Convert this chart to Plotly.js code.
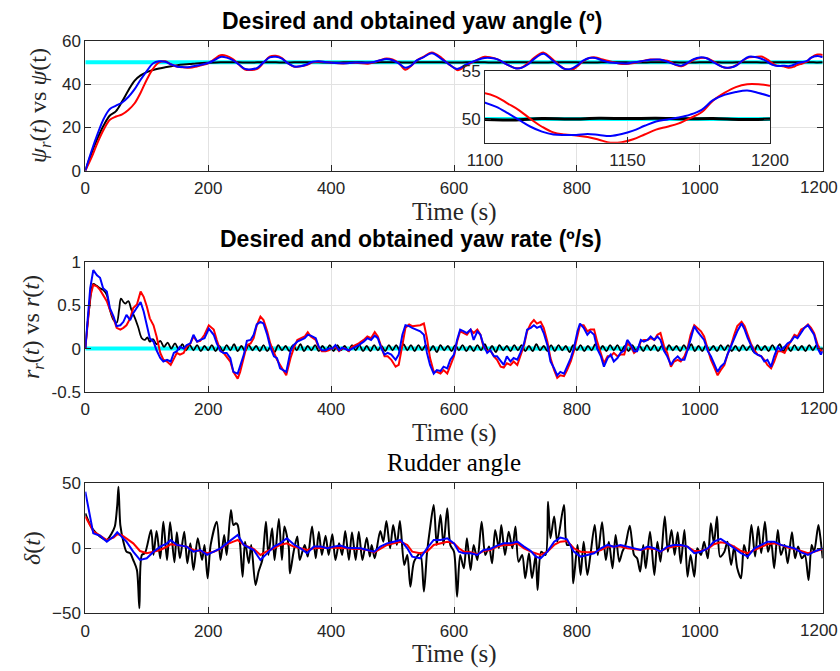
<!DOCTYPE html>
<html>
<head>
<meta charset="utf-8">
<script src="https://cdn.plot.ly/plotly-3.0.1.min.js"></script>
<style>html,body{margin:0;padding:0;background:#fff;}#chart{width:840px;height:671px;}</style>
</head>
<body>
<div id="chart"></div>
<script>
// ---------------- DATA ----------------
// Panel 1: yaw angle (deg)
const yawTime = [
0,10,20,30,40,50,60,70,80,90,
100,110,120,130,140,150,160,170,180,190,
200,210,220,230,240,250,260,270,280,290,
300,310,320,330,340,350,360,370,380,390,
400,420,440,460,470,480,490,500,510,521,
530,540,550,564,580,590,600,606,620,640,
650,660,670,680,690,700,710,720,730,740,
746,760,770,780,790,800,810,820,830,840,
850,860,870,880,890,900,910,920,935,950,
960,970,980,990,1000,1010,1020,1030,1040,1050,
1060,1070,1080,1090,
1100,1104,1108,1112,1116,1120,1124,1128,1132,1136,
1140,1144,1148,1152,1156,1160,1164,1168,1172,1176,
1180,1184,1188,1192,1196,1200];
const yawBlue = [
0,9,17,24,28.5,30,31.5,34,37.5,42,
46,49.5,50.5,50.3,49,48,47.8,47.9,48.4,49,
49.7,51,52.5,52.2,51,49,47,46.8,47.5,50,
52.3,52.6,51.7,49.5,48.1,48.2,49,50.3,50.5,50.2,
49.8,49.6,49.9,49.8,50.2,51,51.5,51,49.5,47.5,
48.5,51,52.3,54.2,51.5,49.5,47.5,47,49,51.3,
52,52,51.5,50,48.5,47.3,47.5,49,51.5,53.5,
54,51,48.8,47,47,48.5,50.8,52,52,51,
50.2,49.8,49.6,49.5,49.9,50.3,50.8,51.2,51.3,50,
49,48.5,49.8,51.5,52.3,52,50.5,48.8,47.6,47.6,
48.6,51,52.6,52.5,
51.7,51.25,50.6,49.9,49.2,48.7,48.4,48.35,48.35,48.45,
48.35,48.25,48.45,48.8,49.3,49.75,49.95,50.15,50.45,50.95,
51.95,52.5,52.8,52.95,52.7,52.35];
const yawRed = [
0,6,13,19,23.5,25,26,28,31,36,
42,47,50,50.5,49,48,47.7,47.5,48,48.8,
49.6,51.5,53.3,53,51.5,49,46.7,46.5,47,49.8,
52.6,53,52,49.5,48,48.2,48.8,50,50.3,50.2,
49.8,49.5,49.8,49.4,50,51,51.8,51.3,49.7,46.6,
48.3,51,52.5,54.6,52,49.5,47.5,46.4,48.5,51.5,
52.6,52.3,51.5,50,48.5,47.3,47.6,49.5,52,54,
54.5,51.5,49,47,46.3,48,50.5,52,52.3,51.5,
50.8,50,49.4,49.3,49.6,50.2,50.8,51.3,51.2,50.5,
49,48.2,49.5,51.2,52,52,50.8,49,47.6,47.6,
48.8,50.8,52.3,52.5,
52.66,52.3,51.6,50.9,50.0,49.2,48.6,48.4,48.3,48.15,
47.85,47.55,47.6,47.9,48.4,48.9,49.2,49.55,50.1,50.7,
51.9,52.7,53.3,53.6,53.6,53.45];
const yawBlackPts = [
[0,0],[10,8],[20,15],[30,21],[40,25.5],[50,27.5],[60,32],[70,37],[80,41.5],[90,44],
[100,45.5],[110,46.5],[120,47.2],[130,47.7],[140,48.2],[150,48.7],[160,49],[170,49.2],[180,49.5],[190,49.7],
[200,49.8],[220,50],[240,50.1],[260,49.9],[280,50],[300,50.1],[320,49.9],[340,50],[360,50.1],[380,50],
[400,49.9],[420,50],[440,50.1],[460,49.9],[480,50],[500,50.1],[520,49.9],[540,50],[560,50.1],[580,50],
[600,49.9],[620,50],[640,50.1],[660,49.9],[680,50],[700,50.1],[720,50],[740,49.9],[760,50],[780,50.1],
[800,50],[820,49.9],[840,50],[860,50.1],[880,50],[900,49.9],[920,50],[940,50.1],[960,50],[980,49.9],
[1000,50],[1020,50.1],[1040,49.9],[1060,50],[1080,50.1],[1100,49.95],[1110,49.9],[1120,50.05],[1130,50.0],[1140,50.08],
[1150,50.05],[1160,50.08],[1170,50.02],[1180,50.05],[1190,49.95],[1200,50.0]];
const yawRef = [50, 50];
const refTime = [0, 1200];

// Panel 2: yaw rate (deg/s)
const rateTime = [
0,8,13,19,24,29,35,40,46,51,
57,62,67,73,78,84,90,95,100,105,
111,116,122,127,133,139,144,149,154,160,
165,171,176,182,187,194,201,209,214,220,
225,230,236,241,248,252,258,263,269,274,
279,285,290,296,301,307,312,317,323,327,
334,339,345,350,357,362,367,375,380,385,
391,396,402,407,413,418,423,429,434,440,
445,453,459,465,471,476,482,487,492,498,
505,510,516,521,527,532,
545,551,556,561,567,572,578,583,589,594,
600,605,610,616,621,627,632,638,643,648,
654,659,665,670,676,681,686,692,697,703,
708,714,719,725,730,735,741,746,752,757,
763,768,773,779,784,790,795,801,805,811,
817,822,828,833,839,844,850,855,860,866,
871,877,882,888,893,898,904,909,915,920,
926,931,936,942,947,953,958,964,969,975,
980,985,991,996,1002,1007,1013,1018,1023,1029,
1034,1040,1045,1051,1056,1061,1068,1073,1078,1083,
1089,1094,1100,1105,1110,1116,1121,1127,1132,1138,
1143,1148,1154,1159,1165,1170,1176,1181,1186,1192,
1197,1200];
const rateBlue = [
0,0.70,0.91,0.85,0.82,0.70,0.66,0.47,0.37,0.26,
0.27,0.31,0.39,0.33,0.41,0.47,0.54,0.43,0.27,0.12,
0.08,-0.02,-0.11,-0.15,-0.13,-0.15,-0.05,-0.03,0.02,0.00,
0.04,0.06,0.16,0.08,0.10,0.12,0.23,0.16,0.06,-0.03,
-0.05,-0.05,-0.11,-0.27,-0.29,-0.19,-0.07,0.09,0.10,0.16,
0.28,0.31,0.29,0.16,0.02,-0.09,-0.11,-0.23,-0.25,-0.27,
-0.03,0.04,0.08,0.10,0.12,0.16,0.15,0.12,0.02,-0.02,
-0.02,0.00,0.00,0.04,-0.02,0.01,0.00,-0.02,0.00,0.02,
0.04,0.08,0.12,0.10,0.15,0.12,0.00,-0.07,-0.05,-0.07,
-0.13,-0.07,0.16,0.27,0.26,0.24,
0.20,0.16,-0.05,-0.19,-0.29,-0.25,-0.26,-0.21,-0.23,-0.13,
-0.07,0.10,0.22,0.20,0.18,0.22,0.10,0.20,0.16,0.04,
-0.05,-0.02,-0.09,-0.09,-0.15,-0.19,-0.09,-0.15,-0.11,-0.13,
-0.05,0.06,0.22,0.24,0.27,0.24,0.26,0.18,0.04,-0.15,
-0.23,-0.31,-0.27,-0.29,-0.21,-0.11,0.00,0.20,0.29,0.24,
0.16,0.20,0.16,0.00,-0.09,-0.21,-0.11,-0.07,-0.15,-0.11,
-0.05,-0.02,0.10,0.04,-0.03,-0.03,0.10,0.08,0.10,0.14,
0.10,0.14,0.10,-0.03,-0.09,-0.19,-0.13,-0.09,-0.13,-0.13,
-0.02,0.12,0.26,0.20,0.14,0.10,-0.03,-0.09,-0.17,-0.27,
-0.21,-0.17,-0.07,0.04,0.12,0.20,0.29,0.22,0.12,0.04,
-0.05,-0.07,-0.09,-0.15,-0.13,-0.21,-0.09,0.02,-0.02,0.02,
0.06,0.08,0.14,0.12,0.18,0.24,0.27,0.22,0.16,0.00,
-0.07,-0.03];
const rateRed = [
0,0.60,0.74,0.72,0.68,0.62,0.55,0.45,0.35,0.24,
0.22,0.24,0.27,0.35,0.47,0.51,0.66,0.60,0.49,0.35,
0.27,0.14,-0.05,-0.13,-0.15,-0.19,-0.11,-0.05,-0.07,-0.05,
0.02,0.06,0.14,0.08,0.09,0.16,0.27,0.22,0.10,-0.03,
-0.05,-0.09,-0.15,-0.27,-0.35,-0.27,-0.11,0.04,0.06,0.12,
0.27,0.37,0.33,0.20,0.06,-0.05,-0.13,-0.19,-0.27,-0.31,
-0.11,0.00,0.10,0.12,0.14,0.19,0.14,0.10,0.01,-0.03,
-0.03,-0.02,0.00,0.02,-0.03,0.00,0.00,-0.03,0.02,0.04,
0.06,0.10,0.14,0.12,0.19,0.14,0.02,-0.09,-0.09,-0.13,
-0.21,-0.19,0.04,0.24,0.28,0.26,
0.27,0.29,0.12,-0.11,-0.27,-0.27,-0.29,-0.25,-0.29,-0.19,
-0.09,0.08,0.20,0.18,0.16,0.22,0.18,0.22,0.16,0.02,
-0.03,-0.02,-0.09,-0.13,-0.21,-0.22,-0.17,-0.19,-0.15,-0.19,
-0.09,0.04,0.20,0.29,0.33,0.29,0.31,0.24,0.08,-0.11,
-0.25,-0.34,-0.31,-0.32,-0.25,-0.15,-0.03,0.16,0.27,0.27,
0.20,0.22,0.22,0.08,-0.07,-0.17,-0.09,-0.09,-0.05,-0.09,
-0.07,-0.07,0.06,0.02,-0.05,-0.02,0.08,0.10,0.10,0.12,
0.10,0.16,0.18,0.02,-0.05,-0.21,-0.15,-0.13,-0.15,-0.09,
0.00,0.16,0.27,0.24,0.20,0.14,-0.02,-0.13,-0.21,-0.31,
-0.25,-0.19,-0.07,0.04,0.16,0.26,0.31,0.26,0.16,0.06,
-0.02,-0.07,-0.09,-0.13,-0.19,-0.23,-0.15,-0.03,-0.03,-0.05,
0.02,0.08,0.16,0.14,0.22,0.24,0.28,0.24,0.18,0.04,
-0.02,-0.03];
const rateBlackPts = [
[0,0],[7,0.50],[13,0.75],[18,0.73],[24,0.70],[29,0.68],[35,0.62],[40,0.45],[46,0.33],[51,0.30],
[55,0.45],[58,0.58],[62,0.54],[65,0.52],[70,0.55],[75,0.45],[81,0.35],[86,0.25],[92,0.12],[97,0.10],
[101,0.13],[105,0.08],[110,0.11],[116,0.05],[122,0.09],[128,0.02],[134,0.07],[140,0.00],[146,0.06],[152,-0.01],
[158,0.05],[164,-0.02],[170,0.04],[176,-0.02],[182,0.04],[188,-0.03],[194,0.03],[200,-0.02],[206,0.04],[212,-0.03],
[218,0.03],[224,-0.03],[230,0.04],[236,-0.02],[242,0.05],[248,-0.03],[254,0.03],[260,-0.03],[266,0.04],[272,-0.02],
[278,0.03],[284,-0.03],[290,0.04],[296,-0.03],[302,0.03],[308,-0.04],[314,0.04],[320,-0.02],[326,0.03],[332,-0.03],
[338,0.04],[344,-0.02],[350,0.05],[356,-0.03],[362,0.03],[368,-0.02],[374,0.04],[380,-0.03],[386,0.03],[392,-0.02],
[398,0.04],[404,-0.03],[410,0.04],[416,-0.02],[422,0.03],[428,-0.03],[434,0.04],[440,-0.02],[446,0.04],[452,-0.03],
[458,0.03],[464,-0.03],[470,0.04],[476,-0.02],[482,0.03],[488,-0.03],[494,0.04],[500,-0.02],[506,0.04],[512,-0.03],
[518,0.05],[524,-0.02],[530,0.04],[536,-0.03],[542,0.04],[548,-0.02],[554,0.04],[560,-0.03],[566,0.03],[572,-0.04],
[578,0.04],[584,-0.02],[590,0.03],[596,-0.03],[602,0.04],[608,-0.02],[614,0.04],[620,-0.03],[626,0.03],[632,-0.03],
[638,0.04],[644,-0.02],[650,0.05],[656,-0.03],[662,0.03],[668,-0.04],[674,0.04],[680,-0.02],[686,0.03],[692,-0.03],
[698,0.04],[704,-0.02],[710,0.04],[716,-0.03],[722,0.03],[728,-0.03],[734,0.05],[740,-0.02],[746,0.03],[752,-0.03],
[758,0.04],[764,-0.03],[770,0.04],[776,-0.02],[782,0.03],[788,-0.04],[794,0.04],[800,-0.02],[806,0.04],[812,-0.03],
[818,0.03],[824,-0.02],[830,0.05],[836,-0.03],[842,0.03],[848,-0.03],[854,0.04],[860,-0.02],[866,0.04],[872,-0.03],
[878,0.03],[884,-0.03],[890,0.04],[896,-0.02],[902,0.03],[908,-0.03],[914,0.04],[920,-0.02],[926,0.04],[932,-0.03],
[938,0.03],[944,-0.04],[950,0.04],[956,-0.02],[962,0.03],[968,-0.03],[974,0.04],[980,-0.02],[986,0.05],[992,-0.03],
[998,0.03],[1004,-0.03],[1010,0.04],[1016,-0.02],[1022,0.03],[1028,-0.03],[1034,0.04],[1040,-0.02],[1046,0.04],[1052,-0.03],
[1058,0.03],[1064,-0.03],[1070,0.04],[1076,-0.02],[1082,0.03],[1088,-0.04],[1094,0.04],[1100,-0.02],[1106,0.03],[1112,-0.03],
[1118,0.04],[1124,-0.02],[1130,0.05],[1136,-0.03],[1142,0.03],[1148,-0.03],[1154,0.04],[1160,-0.02],[1166,0.03],[1172,-0.03],
[1178,0.04],[1184,-0.02],[1190,0.04],[1196,-0.03],[1200,0.01]];
const rateRef = [0, 0];

// Panel 3: rudder angle (deg)
const rudTime = [
0,8,13,24,35,46,52,59,67,78,
89,100,111,122,133,139,149,165,176,187,
198,209,220,230,241,248,258,274,285,296,
307,317,328,339,350,361,372,383,394,404,
415,426,437,448,459,470,480,491,502,513,
524,532,545,556,567,578,589,600,608,616,
627,638,648,659,670,681,692,703,714,725,
733,741,752,763,773,784,795,806,817,828,
839,850,860,871,882,893,904,915,926,936,
947,958,969,980,991,1002,1013,1023,1034,1045,
1056,1067,1078,1089,1100,1110,1121,1132,1143,1154,
1165,1176,1186,1200];
const rudBlue = [
43.6,21.8,11.5,9.7,5.1,9.0,12.3,9.0,5.1,-2.6,
-9.0,-7.7,-2.6,1.3,3.8,6.4,2.6,1.3,-2.6,-1.3,
-5.1,-2.6,0,3.8,7.7,10.3,2.6,-1.3,-9.0,-3.8,
1.3,3.8,7.7,3.1,0,-3.8,1.3,1.3,0,1.3,
2.1,0.5,0.5,0,-1.3,-2.6,1.3,3.8,5.1,6.4,
0,-6.4,-7.7,0,6.4,6.4,7.7,3.8,-2.6,-3.8,
-3.8,-5.1,-1.3,-0.5,2.1,3.8,3.8,5.1,1.3,-2.1,
-6.4,-7.7,-2.6,5.1,8.2,6.9,-2.6,-6.4,-5.1,-3.8,
0,2.6,1.3,2.6,1.3,0,-1.3,1.3,0,-2.6,
1.3,2.6,2.6,1.3,-3.8,-2.6,0,5.1,7.2,3.8,
0,-3.8,-6.4,0,2.6,5.1,5.1,2.6,1.3,0,
-3.1,-5.1,-2.6,0];
const rudRed = [
24.4,17.9,13.1,9.7,6.4,8.2,10.8,10.3,7.7,3.8,
-2.1,-3.8,-2.6,-1.3,1.3,3.1,2.6,1.3,-1.3,-2.1,
-3.8,-2.6,-0.5,3.1,5.1,6.4,2.6,-0.5,-5.1,-2.1,
0,2.6,3.8,1.3,0,-1.3,0,0.5,0.5,0.5,
0.5,0,-0.5,-0.5,-1.3,-3.1,-0.5,2.6,3.8,5.1,
2.6,-2.6,-3.8,-2.6,2.6,3.8,5.1,3.8,0,-2.6,
-3.1,-4.6,-2.1,-1.3,1.3,2.6,2.6,3.8,0,-2.6,
-3.8,-5.1,-2.6,2.6,5.1,5.6,0,-2.6,-3.1,-3.1,
-1.3,1.3,1.3,1.3,0,-0.5,-1.3,0,-0.5,-2.6,
0.5,1.3,2.1,1.3,-2.1,-2.1,-0.5,3.1,4.6,3.8,
1.3,-2.1,-3.8,-1.3,1.3,3.1,3.8,2.6,0.5,-0.5,
-2.1,-3.8,-2.6,-0.5];
const rudBlackPts = [
[0,26.9],[8,17.9],[13,14.1],[24,9.0],[35,6.4],[43,11.5],[48,16.7],[52,33.3],[54,47.4],[57,17.9],
[62,5.1],[67,-2.6],[73,-3.8],[78,-9.0],[84,-16.7],[88,-46.2],[92,-5.1],[97,-3.8],[107,14.1],[111,-5.1],
[116,13.3],[122,-7.7],[127,20.5],[133,-9.0],[138,20.0],[145,-10.8],[149,12.3],[154,-7.7],[161,12.8],[166,-11.5],
[171,3.8],[176,-16.7],[183,7.7],[190,-9.0],[194,2.6],[199,-23.1],[204,2.6],[214,20.5],[220,-9.0],[226,10.3],
[230,-5.1],[237,29.5],[241,17.9],[245,19.2],[248,17.9],[252,2.6],[256,-21.8],[260,5.1],[266,-11.5],[270,2.6],
[277,-28.2],[282,-17.9],[288,-9.0],[294,20.5],[298,-5.1],[304,15.4],[308,-9.0],[315,22.6],[320,-9.0],[324,16.7],
[331,1.3],[333,-19.2],[339,-2.6],[345,9.0],[349,-9.0],[357,2.6],[362,-6.4],[369,16.7],[375,-7.7],[380,12.8],
[385,-5.1],[391,9.7],[396,-5.1],[402,10.8],[407,-9.0],[413,3.8],[418,-5.1],[423,13.3],[429,-9.0],[434,12.3],
[440,-9.0],[445,12.8],[451,-9.0],[458,8.2],[463,-6.4],[466,2.6],[471,-7.7],[480,13.3],[485,5.1],[490,21.0],
[496,0],[501,17.9],[507,2.6],[512,21.0],[519,-12.8],[524,-5.1],[529,-29.5],[535,-10.3],[545,-3.8],[551,-33.3],
[556,-3.8],[561,15.4],[567,33.3],[572,2.6],[578,25.6],[583,2.6],[589,30.8],[594,2.6],[600,-2.6],[605,-37.2],
[610,-5.1],[616,-15.4],[621,7.7],[627,-16.7],[632,2.6],[638,-9.0],[645,20.5],[651,-5.1],[657,1.3],[662,-11.5],
[667,14.1],[673,0],[677,17.9],[683,-5.1],[689,12.8],[695,0],[700,16.7],[705,-10.3],[711,-5.1],[716,-23.1],
[722,-3.8],[727,-23.1],[733,-5.1],[736,-32.1],[742,-2.6],[749,-5.1],[753,35.9],[757,7.7],[763,24.4],[768,5.1],
[779,33.3],[784,2.6],[790,2.6],[794,-26.9],[801,2.6],[806,-20.5],[811,5.1],[817,-20.5],[822,-5.1],[829,17.9],
[834,-5.1],[841,20.0],[847,-9.0],[852,5.1],[858,-15.4],[863,10.3],[869,-10.3],[874,-2.6],[879,2.6],[886,17.4],
[893,-5.1],[898,-7.7],[903,-17.9],[908,2.6],[912,-15.4],[919,12.8],[926,-20.5],[931,5.1],[936,-10.3],[943,24.4],
[948,-2.6],[954,14.1],[959,-5.1],[964,12.3],[969,-11.5],[975,14.1],[980,-21.8],[985,-5.1],[991,-21.8],[996,0],
[1002,-5.1],[1007,5.1],[1013,-7.7],[1018,19.2],[1023,3.8],[1028,24.4],[1033,-6.4],[1040,-2.6],[1045,5.1],[1051,-12.8],
[1056,1.3],[1061,-15.4],[1067,-23.1],[1072,2.6],[1078,-7.7],[1084,17.9],[1090,-6.4],[1095,16.7],[1100,-3.8],[1106,20.5],
[1111,-2.6],[1116,5.1],[1121,-15.4],[1127,14.1],[1132,-5.1],[1138,2.6],[1143,-11.5],[1150,12.3],[1155,-7.7],[1160,1.3],
[1166,-7.7],[1171,-5.1],[1177,-24.4],[1182,2.6],[1186,-2.6],[1193,17.9],[1197,5.1],[1200,-7.7]];

const xTicks = [0, 200, 400, 600, 800, 1000];
const xEndTick = '1200';
const yawTicks = [0, 20, 40, 60];
const rateTicks = [-0.5, 0, 0.5, 1];
const rateTickText = ['-0.5', '0', '0.5', '1'];
const rudTicks = [-50, 0, 50];
const insetXTicks = [1100, 1150, 1200];
const insetYTicks = [50, 55];

// ---------------- STYLE / LAYOUT ----------------
const W = 840, H = 671;
const px = v => v / W;
const py = v => 1 - v / H;
const SANS = 'Liberation Sans, Arial, Helvetica, sans-serif';
const SERIF = 'Liberation Serif, Times New Roman, serif';
const C = {red: '#ff0000', blue: '#0000ff', black: '#000000', cyan: '#00ffff'};

function tr(x, y, color, width, xa, ya, shape, smooth) {
  const t = {x: x, y: y, type: 'scatter', mode: 'lines', xaxis: xa, yaxis: ya,
    line: {color: color, width: width, shape: shape || 'linear'}, hoverinfo: 'skip', showlegend: false};
  if (shape === 'spline') t.line.smoothing = smooth || 1;
  return t;
}
const col = (pts, i) => pts.map(p => p[i]);

const traces = [
  // top
  tr(refTime, yawRef, C.cyan, 4, 'x', 'y'),
  tr(col(yawBlackPts,0), col(yawBlackPts,1), C.black, 2, 'x', 'y', 'spline', 1),
  tr(yawTime, yawRed, C.red, 2, 'x', 'y', 'spline', 1),
  tr(yawTime, yawBlue, C.blue, 2, 'x', 'y', 'spline', 1),
  // inset
  tr(refTime, yawRef, C.cyan, 4, 'x2', 'y2'),
  tr(col(yawBlackPts,0), col(yawBlackPts,1), C.black, 3, 'x2', 'y2', 'spline', 1),
  tr(yawTime, yawRed, C.red, 2, 'x2', 'y2', 'spline', 1),
  tr(yawTime, yawBlue, C.blue, 2, 'x2', 'y2', 'spline', 1),
  // middle
  tr(refTime, rateRef, C.cyan, 4, 'x3', 'y3'),
  tr(col(rateBlackPts,0), col(rateBlackPts,1), C.black, 1.8, 'x3', 'y3', 'spline', 1),
  tr(rateTime, rateRed, C.red, 2, 'x3', 'y3'),
  tr(rateTime, rateBlue, C.blue, 2, 'x3', 'y3'),
  // bottom
  tr(col(rudBlackPts,0), col(rudBlackPts,1), C.black, 2, 'x4', 'y4', 'spline', 0.8),
  tr(rudTime, rudRed, C.red, 2, 'x4', 'y4'),
  tr(rudTime, rudBlue, C.blue, 2, 'x4', 'y4')
];

function ax(extra) {
  return Object.assign({
    showline: true, mirror: 'ticks', linecolor: '#262626', linewidth: 1,
    ticks: 'inside', ticklen: 6, tickwidth: 1, tickcolor: '#262626',
    showgrid: true, gridcolor: '#e2e2e2', gridwidth: 1, zeroline: false,
    tickfont: {family: SANS, size: 17, color: '#262626'}, fixedrange: true
  }, extra);
}
const XD = [px(85.3), px(822.7)];
const tickFontAnn = {family: SANS, size: 17, color: '#262626'};

const layout = {
  width: W, height: H,
  margin: {l: 0, r: 0, t: 0, b: 0},
  paper_bgcolor: '#ffffff', plot_bgcolor: '#ffffff',
  showlegend: false,
  xaxis: ax({domain: XD, anchor: 'y', range: [0, 1200], tickvals: xTicks, ticklabelstandoff: 2}),
  yaxis: ax({domain: [py(170.7), py(40.7)], anchor: 'x', range: [0, 60], tickvals: yawTicks}),
  xaxis2: ax({domain: [px(485), px(770)], anchor: 'y2', range: [1100, 1200], tickvals: insetXTicks, ticklabelstandoff: 2}),
  yaxis2: ax({domain: [py(142.7), py(70.7)], anchor: 'x2', range: [47.55, 55], tickvals: insetYTicks}),
  xaxis3: ax({domain: XD, anchor: 'y3', range: [0, 1200], tickvals: xTicks, ticklabelstandoff: 2}),
  yaxis3: ax({domain: [py(391.7), py(262.3)], anchor: 'x3', range: [-0.5, 1], tickvals: rateTicks, ticktext: rateTickText}),
  xaxis4: ax({domain: XD, anchor: 'y4', range: [0, 1200], tickvals: xTicks, ticklabelstandoff: 2}),
  yaxis4: ax({domain: [py(613.3), py(483.3)], anchor: 'x4', range: [-50, 50], tickvals: rudTicks}),
  annotations: [
    {text: '<b>Desired and obtained yaw angle (º)</b>', x: px(412), y: py(21), font: {family: SANS, size: 23, color: '#000'}},
    {text: '<b>Desired and obtained yaw rate (º/s)</b>', x: px(411), y: py(239), font: {family: SANS, size: 23, color: '#000'}},
    {text: 'Rudder angle', x: px(454), y: py(462), font: {family: SERIF, size: 25, color: '#000'}},
    {text: 'Time (s)', x: px(454), y: py(212), font: {family: SERIF, size: 25, color: '#262626'}},
    {text: 'Time (s)', x: px(454), y: py(433), font: {family: SERIF, size: 25, color: '#262626'}},
    {text: 'Time (s)', x: px(454), y: py(654), font: {family: SERIF, size: 25, color: '#262626'}},
    {text: xEndTick, x: px(818.5), y: py(188), font: tickFontAnn},
    {text: xEndTick, x: px(818.5), y: py(409), font: tickFontAnn},
    {text: xEndTick, x: px(818.5), y: py(630), font: tickFontAnn},
    {text: '<i>ψ</i><sub><i>r</i></sub>(<i>t</i>) vs <i>ψ</i>(t)', x: px(40), y: py(106), textangle: -90, font: {family: SERIF, size: 24, color: '#262626'}},
    {text: '<i>r</i><sub><i>r</i></sub>(<i>t</i>) vs <i>r</i>(<i>t</i>)', x: px(33), y: py(327), textangle: -90, font: {family: SERIF, size: 24, color: '#262626'}},
    {text: '<i>δ</i>(<i>t</i>)', x: px(32), y: py(548), textangle: -90, font: {family: SERIF, size: 24, color: '#262626'}}
  ].map(a => Object.assign({xref: 'paper', yref: 'paper', xanchor: 'center', yanchor: 'middle', showarrow: false}, a))
};

Plotly.newPlot('chart', traces, layout, {staticPlot: true, displayModeBar: false});
</script>
</body>
</html>
